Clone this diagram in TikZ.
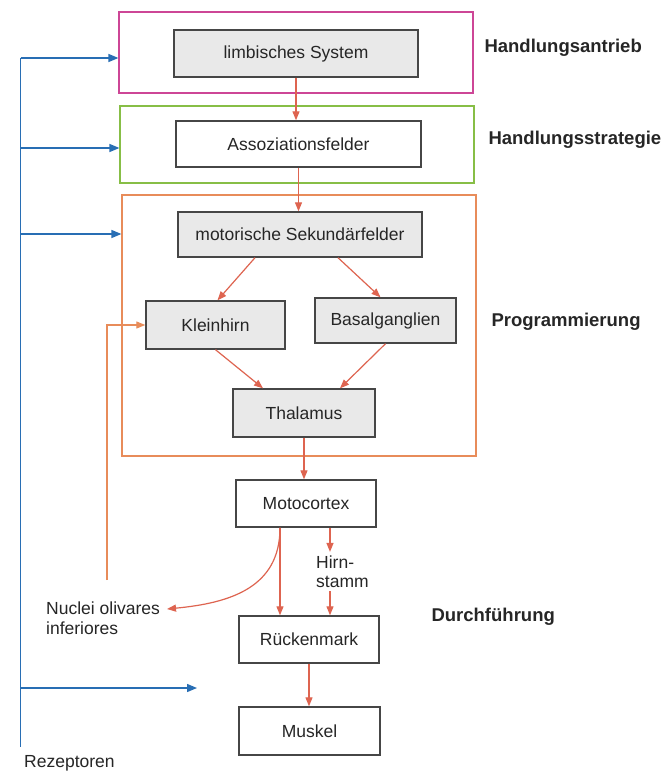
\documentclass[tikz,border=0pt]{standalone}
\usepackage{fontspec}
\setmainfont{Liberation Sans}
\usetikzlibrary{arrows.meta}
\definecolor{pinkf}{RGB}{205,70,150}
\definecolor{greenf}{RGB}{135,190,70}
\definecolor{orangef}{RGB}{232,140,90}
\definecolor{redarr}{RGB}{222,100,80}
\definecolor{bluearr}{RGB}{40,110,180}
\definecolor{boxgray}{RGB}{233,233,233}
\definecolor{boxline}{RGB}{70,70,70}
\begin{document}
\begin{tikzpicture}[x=1pt,y=-1pt,
  txt/.style={font=\fontsize{17.5}{20}\selectfont, text=black!85},
  lbl/.style={font=\fontsize{18.5}{22}\selectfont\bfseries, text=black!85, anchor=west},
  frame/.style={draw, line width=1.2pt, minimum width=354pt, inner sep=0pt},
  gbox/.style={txt, draw=boxline, fill=boxgray, line width=1.4pt, inner sep=0pt},
  wbox/.style={txt, draw=boxline, fill=white, line width=1.4pt, inner sep=0pt},
  rarr/.style={draw=redarr, line width=1.2pt, -{Triangle[length=9pt,width=7pt]}},
  barr/.style={draw=bluearr, line width=1.4pt, -{Triangle[length=10pt,width=8pt]}}]
\useasboundingbox[fill=white] (0,0) rectangle (665,773);
% frames
\node[frame, draw=pinkf, minimum height=81pt] (pink) at (296,52.5) {};
\node[frame, draw=greenf, minimum height=77pt] (green) at (297,144.5) {};
\node[frame, draw=orangef, minimum height=261pt] (orange) at (299,325.5) {};
% boxes
\node[gbox, minimum width=244pt, minimum height=47pt] (limb) at (296,53.5) {limbisches System};
\node[wbox, minimum width=245pt, minimum height=46pt] (assoz) at (298.5,144) {Assoziationsfelder};
\node[gbox, minimum width=244pt, minimum height=45pt] (motor) at (300,234.5) {motorische Sekundärfelder};
\node[gbox, minimum width=139pt, minimum height=48pt] (klein) at (215.5,325) {Kleinhirn};
\node[gbox, minimum width=141pt, minimum height=45pt] (basal) at (385.5,320.5) {Basalganglien};
\node[gbox, minimum width=142pt, minimum height=48pt] (thal) at (304,413) {Thalamus};
\node[wbox, minimum width=140pt, minimum height=47pt] (moto) at (306,503.5) {Motocortex};
\node[wbox, minimum width=140pt, minimum height=47pt] (rueck) at (309,639.5) {Rückenmark};
\node[wbox, minimum width=141pt, minimum height=48pt] (musk) at (309.5,731) {Muskel};
% side labels
\node[lbl] (l1) at (481,48) {Handlungsantrieb};
\node[lbl] (l2) at (485,140) {Handlungsstrategie};
\node[lbl] (l3) at (488,322) {Programmierung};
\node[lbl] (l4) at (428,617) {Durchführung};
% other texts
\node[txt, anchor=west, align=left, inner sep=0pt, font=\fontsize{17.5}{19}\selectfont] (hirn) at (316,572) {Hirn-\\stamm};
\node[txt, anchor=west, align=left, inner sep=0pt, font=\fontsize{17.5}{20}\selectfont] (nuc) at (46,618) {Nuclei olivares\\inferiores};
\node[txt, anchor=west, inner sep=0pt] (rez) at (24,763) {Rezeptoren};
% coordinates
\coordinate (btop) at (20.5,58);
\coordinate (bbot) at (20.5,747);
\coordinate (b2) at (20.5,148);
\coordinate (b3) at (20.5,234);
\coordinate (b4) at (20.5,688);
\coordinate (b4end) at (197,688);
\coordinate (nucend) at (167,609);
\coordinate (fb) at (107,580);
\coordinate (mc) at ([xshift=-26pt]moto.south);
\coordinate (mh) at ([xshift=24pt]moto.south);
% blue
\draw[draw=bluearr, line width=1.4pt] (btop) -- (bbot);
\draw[barr] (btop) -- (btop -| pink.west);
\draw[barr] (b2) -- (b2 -| green.west);
\draw[barr] (b3) -- (b3 -| orange.west);
\draw[barr] (b4) -- (b4end);
% red
\draw[rarr] (limb.south) -- (limb.south |- assoz.north);
\draw[rarr] (assoz.south) -- (assoz.south |- motor.north);
\draw[rarr] ([xshift=-45pt]motor.south) -- ([xshift=2pt]klein.north);
\draw[rarr] ([xshift=38pt]motor.south) -- ([xshift=-5pt]basal.north);
\draw[rarr] (klein.south) -- ([xshift=-41pt]thal.north);
\draw[rarr] (basal.south) -- ([xshift=36pt]thal.north);
\draw[rarr] (thal.south) -- (thal.south |- moto.north);
\draw[rarr] (mc) -- (mc |- rueck.north);
\draw[rarr] (mc) .. controls ([yshift=-60pt]mc) and (230,603) .. (nucend);
\draw[rarr] (mh) -- ([yshift=4pt]mh |- hirn.north);
\draw[rarr] ([yshift=-3pt]mh |- hirn.south) -- (mh |- rueck.north);
\draw[rarr] (rueck.south) -- (rueck.south |- musk.north);
\draw[rarr, draw=orangef] (fb) |- (klein.west);
\end{tikzpicture}
\end{document}
